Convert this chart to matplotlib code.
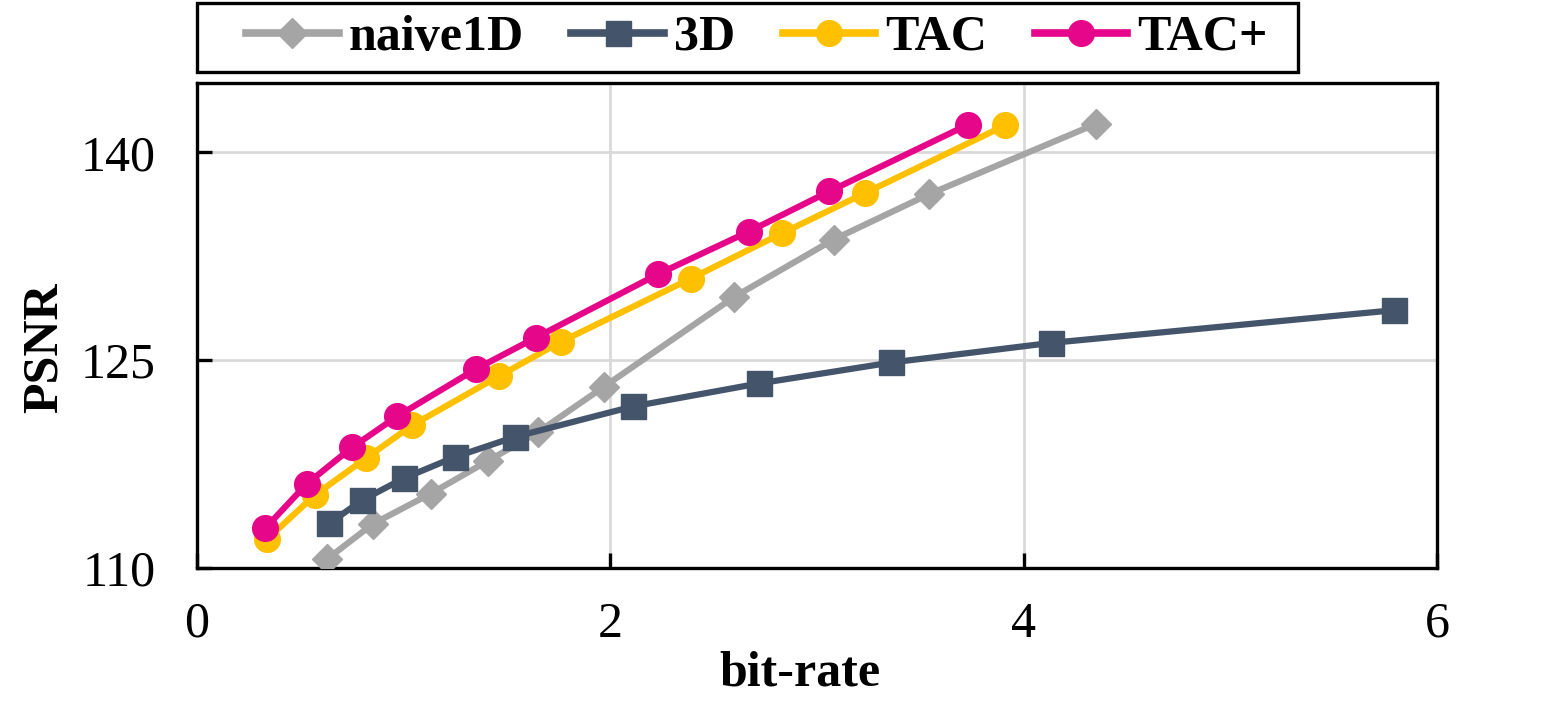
import matplotlib
matplotlib.use('Agg')
import matplotlib.pyplot as plt
from matplotlib.patches import Rectangle

# Daten
naive_x = [0.63, 0.85, 1.13, 1.41, 1.65, 1.97, 2.60, 3.08, 3.54, 4.35]
naive_y = [110.65, 113.17, 115.36, 117.75, 119.80, 123.09, 129.57, 133.70, 136.96, 142.05]

d3_x = [0.64, 0.80, 1.00, 1.25, 1.54, 2.11, 2.72, 3.36, 4.13, 5.79]
d3_y = [113.22, 114.90, 116.47, 118.02, 119.47, 121.66, 123.32, 124.83, 126.24, 128.6]

tac_x = [0.34, 0.57, 0.82, 1.04, 1.46, 1.76, 2.39, 2.83, 3.23, 3.91]
tac_y = [112.09, 115.26, 117.95, 120.29, 123.84, 126.32, 130.89, 134.15, 137.04, 141.94]

tacp_x = [0.33, 0.53, 0.75, 0.97, 1.35, 1.64, 2.23, 2.67, 3.06, 3.73]
tacp_y = [112.86, 116.06, 118.70, 120.96, 124.36, 126.63, 131.20, 134.28, 137.18, 141.99]

x_ticks = [0, 2, 4, 6]
y_ticks = [110, 125, 140]

plt.rcParams['font.family'] = ['Liberation Serif', 'DejaVu Serif']
fs = 36

W, H = 1541, 708
fig = plt.figure(figsize=(W / 100, H / 100), dpi=100)
ax = fig.add_axes([197 / W, 1 - 568 / H, 1240 / W, 485 / H])

lw = 4.5
ax.plot(naive_x, naive_y, color='#A5A5A5', lw=lw, marker='D', ms=15, label='naive1D', zorder=3)
ax.plot(d3_x, d3_y, color='#44546A', lw=lw, marker='s', ms=18, label='3D', zorder=3)
ax.plot(tac_x, tac_y, color='#FFC000', lw=lw, marker='o', ms=18.5, label='TAC', zorder=4)
ax.plot(tacp_x, tacp_y, color='#E6068A', lw=lw, marker='o', ms=18.5, label='TAC+', zorder=5)

ax.set_xlim(0, 6)
ax.set_ylim(110, 145)
ax.set_xticks(x_ticks)
ax.set_yticks(y_ticks)
ax.grid(True, color='#D9D9D9', lw=2, zorder=0)
ax.set_axisbelow(True)

for s in ax.spines.values():
    s.set_linewidth(2.4)
ax.tick_params(axis='both', direction='in', length=11, width=2.4, labelsize=fs)
ax.tick_params(axis='y', pad=30)
ax.tick_params(axis='x', pad=24)

ax.set_xlabel('bit-rate', fontsize=fs, fontweight='bold')
ax.xaxis.set_label_coords(0.486, -0.17)
ax.set_ylabel('PSNR', fontsize=fs, fontweight='bold')
ax.yaxis.set_label_coords(-0.104, 0.454)

# Legende: Rahmen separat, Einträge ohne Rahmen
fig.patches.append(Rectangle((197 / W, 1 - 72 / H), 1101 / W, 69 / H,
                             transform=fig.transFigure, fill=False,
                             edgecolor='black', lw=2.4))
leg = fig.legend(loc='center left', bbox_to_anchor=(246 / W, 1 - 38 / H), ncol=4,
                 prop={'weight': 'bold', 'size': fs}, frameon=False,
                 borderaxespad=0, borderpad=0,
                 handlelength=1.85, handletextpad=0.2, columnspacing=0.95)
for ln in leg.get_lines():
    ln.set_linewidth(5.5)

fig.savefig('out.png', dpi=100)
